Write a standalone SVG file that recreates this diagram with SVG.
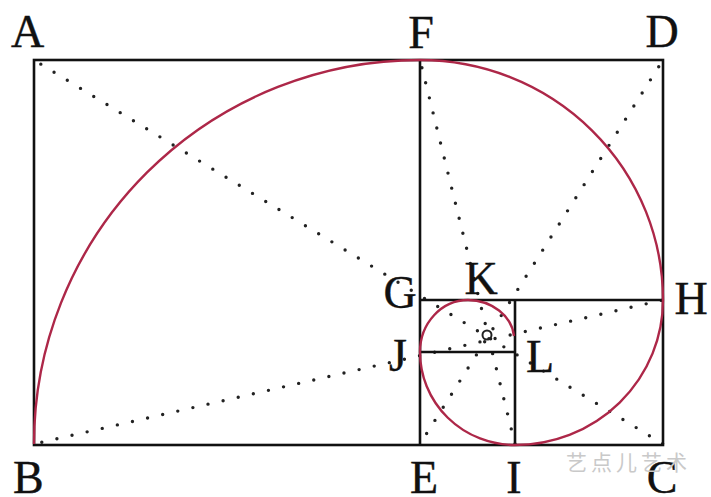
<svg xmlns="http://www.w3.org/2000/svg" width="711" height="497" viewBox="0 0 711 497">
<style>
.ln{stroke:#111;stroke-width:2.6;fill:none}
.dot{stroke:#222;stroke-width:3.4;fill:none;stroke-linecap:round;stroke-dasharray:0 15.5}
.sp{stroke:#ad2748;stroke-width:2.4;fill:none}
.lb{font-family:"Liberation Serif","Times New Roman",serif;font-size:46px;fill:#111;stroke:#111;stroke-width:0.4}
.wm{font-family:"Noto Sans CJK SC",sans-serif;font-size:21px;fill:#c9c9c9;letter-spacing:4px}
</style>
<rect width="711" height="497" fill="#fff"/>
<g id="connectors">
<line class="dot" x1="34" y1="60" x2="663" y2="444" stroke-dashoffset="-8"/>
<line class="dot" x1="34" y1="444" x2="663" y2="300" stroke-dashoffset="-8"/>
<line class="dot" x1="420" y1="60" x2="515" y2="444" stroke-dashoffset="-8"/>
<line class="dot" x1="663" y1="60" x2="420" y2="444" stroke-dashoffset="-8"/>
</g>
<g id="frame">
<rect class="ln" x="34" y="60" width="629" height="385" stroke-width="3"/>
<line class="ln" x1="420" y1="60" x2="420" y2="445"/>
<line class="ln" x1="420" y1="300" x2="663" y2="300"/>
<line class="ln" x1="515" y1="300" x2="515" y2="445"/>
<line class="ln" x1="420" y1="352" x2="515" y2="352"/>
</g>
<g id="spiral">
<path class="sp" d="M34 444 A386 384 0 0 1 420 60 A243 240 0 0 1 663 300 A148 145 0 0 1 515 445 A95 93 0 0 1 420 352 A48 52 0 0 1 468 300 A47 40 0 0 1 514 336"/>
<circle cx="487" cy="335" r="4.5" fill="none" stroke="#222" stroke-width="2"/>
</g>
<g id="A"><text class="lb" x="11" y="47">A</text></g>
<g id="F"><text class="lb" x="421" y="48" text-anchor="middle">F</text></g>
<g id="D"><text class="lb" x="662" y="47" text-anchor="middle">D</text></g>
<g id="B"><text class="lb" x="13" y="493">B</text></g>
<g id="E"><text class="lb" x="424" y="493" text-anchor="middle">E</text></g>
<g id="I"><text class="lb" x="514" y="493" text-anchor="middle">I</text></g>
<g id="C"><text class="lb" x="662" y="493" text-anchor="middle">C</text></g>
<g id="G"><text class="lb" x="400" y="308" text-anchor="middle">G</text></g>
<g id="K"><text class="lb" x="481" y="294" text-anchor="middle">K</text></g>
<g id="H"><text class="lb" x="691" y="314" text-anchor="middle">H</text></g>
<g id="J"><text class="lb" x="398" y="371" text-anchor="middle">J</text></g>
<g id="L"><text class="lb" x="540" y="372" text-anchor="middle">L</text></g>
<text class="wm" x="566" y="470">艺点儿艺术</text>
</svg>
